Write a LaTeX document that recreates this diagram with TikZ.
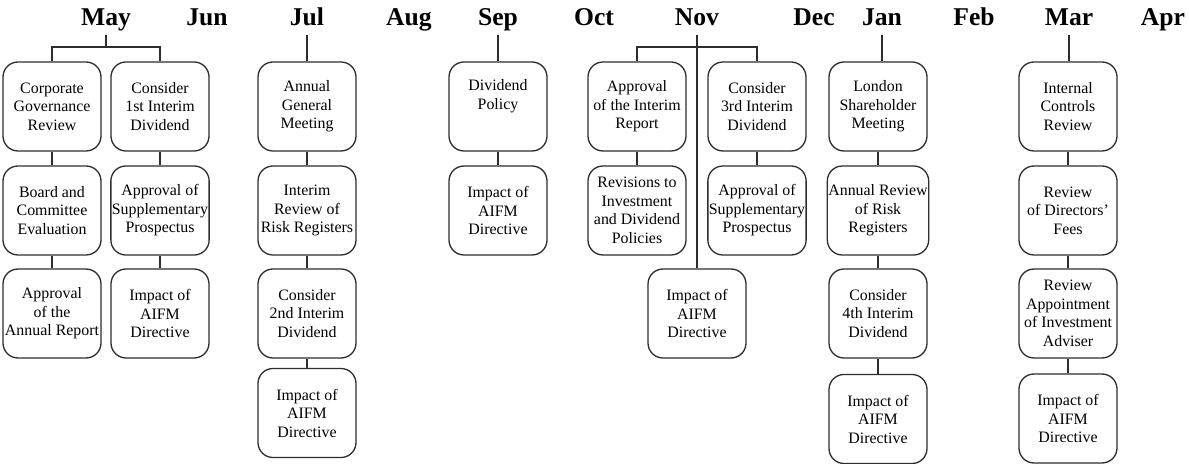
\documentclass[tikz,border=0pt]{standalone}
\usepackage{fontspec}
\setmainfont{Liberation Serif}
\usepackage{tikz}
\usetikzlibrary{positioning}
\usepackage{xcolor}
\definecolor{lgrey}{RGB}{45,45,45}

\begin{document}
\begin{tikzpicture}[x=0.5pt, y=-0.5pt,
  month/.style={font=\fontsize{12.8}{14}\selectfont\bfseries, anchor=base,
                text depth=0pt, inner xsep=0pt, inner ysep=4.5pt},
  task/.style={draw=lgrey, line width=0.65pt, rounded corners=7.5pt,
               minimum width=49pt, minimum height=44.5pt, inner sep=0.5pt,
               align=center, font=\fontsize{7.95}{9.25}\selectfont},
  link/.style={lgrey, line width=0.65pt}
]
\useasboundingbox (0,0) rectangle (1189,464);
% months
\node[month] (may) at (106,26) {May};
\node[month] (jun) at (207,26) {Jun};
\node[month] (jul) at (307,26) {Jul};
\node[month] (aug) at (409,26) {Aug};
\node[month] (sep) at (498,26) {Sep};
\node[month] (oct) at (594,26) {Oct};
\node[month] (nov) at (697,26) {Nov};
\node[month] (dec) at (814,26) {Dec};
\node[month] (jan) at (882,26) {Jan};
\node[month] (feb) at (974,26) {Feb};
\node[month] (mar) at (1069,26) {Mar};
\node[month] (apr) at (1163,26) {Apr};
% May
\node[task] (cgr)  at (52,106.5)  {Corporate\\Governance\\Review};
\node[task] (bce)  at (52,210.5)  {Board and\\Committee\\Evaluation};
\node[task] (aar)  at (52,313.5)  {Approval\\of the\\Annual Report};
\node[task] (fid)  at (160,106.5) {Consider\\1st Interim\\Dividend};
\node[task] (asp1) at (160,210.5) {Approval of\\Supplementary\\Prospectus};
\node[task] (aim1) at (160,313.5) {Impact of\\AIFM\\Directive};
% Jul
\node[task] (agm)  at (307,106.5) {Annual\\General\\Meeting};
\node[task] (irr)  at (307,210.5) {Interim\\Review of\\Risk Registers};
\node[task] (sid)  at (307,313.5) {Consider\\2nd Interim\\Dividend};
\node[task] (aim2) at (307,413)   {Impact of\\AIFM\\Directive};
% Sep
\node[task] (dpo)  at (498,106.5) {Dividend\\Policy\\\strut};
\node[task] (aim3) at (498,210.5) {Impact of\\AIFM\\Directive};
% Nov
\node[task] (air)  at (637,106.5) {Approval\\of the Interim\\Report};
\node[task] (rid)  at (637,210.5) {Revisions to\\Investment\\and Dividend\\Policies};
\node[task] (tid)  at (757,106.5) {Consider\\3rd Interim\\Dividend};
\node[task] (asp2) at (757,210.5) {Approval of\\Supplementary\\Prospectus};
\node[task] (aim4) at (697,313.5) {Impact of\\AIFM\\Directive};
% Jan
\node[task] (lsm)  at (878,106.5) {London\\Shareholder\\Meeting};
\node[task] (arr)  at (878,210.5) {Annual Review\\of Risk\\Registers};
\node[task] (fod)  at (878,313.5) {Consider\\4th Interim\\Dividend};
\node[task] (aim5) at (878,419)   {Impact of\\AIFM\\Directive};
% Mar
\node[task] (icr)  at (1068,106.5) {Internal\\Controls\\Review};
\node[task] (rdf)  at (1068,210.5) {Review\\of Directors'\\Fees};
\node[task] (ria)  at (1068,313.5) {Review\\Appointment\\of Investment\\Adviser};
\node[task] (aim6) at (1068,418.5) {Impact of\\AIFM\\Directive};
% links
\coordinate (mayj) at (106,47);
\coordinate (novj) at (697,47);
\draw[link] (may.south) -- (mayj);
\draw[link] (cgr.north) |- (mayj) -| (fid.north);
\draw[link] (cgr) -- (bce);  \draw[link] (bce) -- (aar);
\draw[link] (fid) -- (asp1); \draw[link] (asp1) -- (aim1);
\draw[link] (jul.south) -- (agm.north);
\draw[link] (agm) -- (irr); \draw[link] (irr) -- (sid); \draw[link] (sid) -- (aim2);
\draw[link] (sep.south) -- (dpo.north);
\draw[link] (dpo) -- (aim3);
\draw[link] (nov.south) -- (aim4.north);
\draw[link] (air.north) |- (novj) -| (tid.north);
\draw[link] (air) -- (rid); \draw[link] (tid) -- (asp2);
\draw[link] (jan.south) -- (jan.south |- lsm.north);
\draw[link] (lsm) -- (arr); \draw[link] (arr) -- (fod); \draw[link] (fod) -- (aim5);
\draw[link] (mar.south) -- (mar.south |- icr.north);
\draw[link] (icr) -- (rdf); \draw[link] (rdf) -- (ria); \draw[link] (ria) -- (aim6);
\end{tikzpicture}
\end{document}
